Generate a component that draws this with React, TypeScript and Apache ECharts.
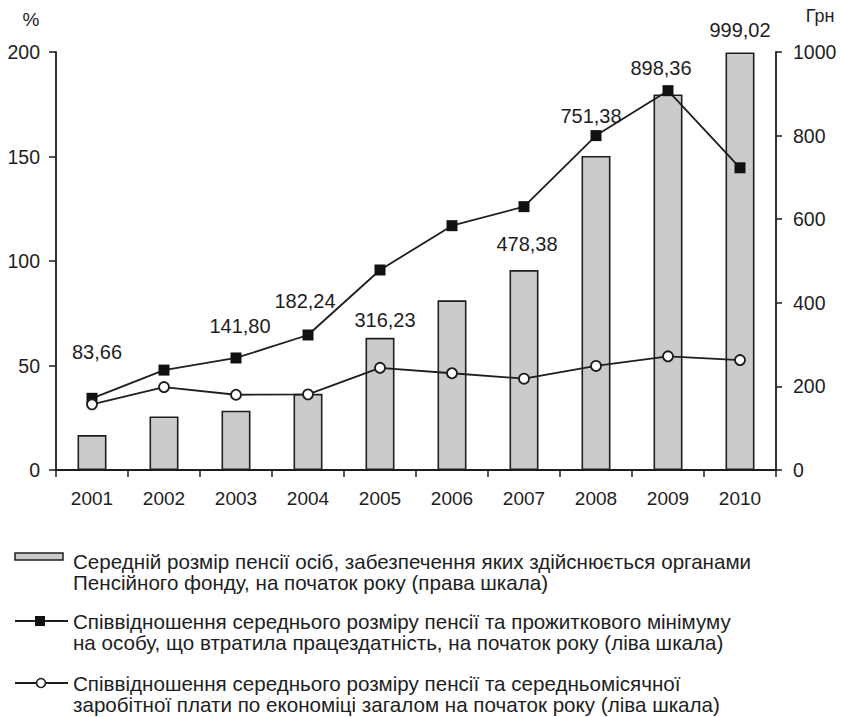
import React, { useEffect, useRef } from 'react';
import * as echarts from 'echarts';

const years = ['2001', '2002', '2003', '2004', '2005', '2006', '2007', '2008', '2009', '2010'];
// Середній розмір пенсії, грн (права шкала)
const pensionUah = [83.66, 128, 141.8, 182.24, 316.23, 406, 478.38, 751.38, 898.36, 999.02];
// Співвідношення до прожиткового мінімуму, % (ліва шкала)
const ratioSubsistence = [34.3, 47.8, 53.6, 64.6, 95.7, 116.9, 126, 160, 181.5, 144.6];
// Співвідношення до середньомісячної зарплати, % (ліва шкала)
const ratioWage = [31.4, 39.7, 36, 36.2, 48.9, 46.3, 43.7, 49.8, 54.4, 52.6];

// which bar values are labelled, and label nudges (style, not data)
const labelOffsets: ([number, number] | null)[] = [
  [5, -68], null, [4, -70], [-3, -78], [5, -3], null, [3, -11], [-5, -25], [-7, -11], [0, -7],
];

const legendLines = [
  ['Середній розмір пенсії осіб, забезпечення яких здійснюється органами', 'Пенсійного фонду, на початок року (права шкала)'],
  ['Співвідношення середнього розміру пенсії та прожиткового мінімуму', 'на особу, що втратила працездатність, на початок року (ліва шкала)'],
  ['Співвідношення середнього розміру пенсії та середньомісячної', 'заробітної плати по економіці загалом на початок року (ліва шкала)'],
];

const FONT = '"Liberation Sans", Arial, Helvetica, sans-serif';
const INK = '#1e1e1e';
const BAR = '#c9cbcd';

export default function App() {
  const ref = useRef<HTMLDivElement>(null);
  useEffect(() => {
    document.body.style.margin = '0';
    const chart = echarts.init(ref.current!, null, { renderer: 'svg' });
    const fmt = (v: number) => v.toFixed(2).replace('.', ',');
    const legendY = [551, 611, 673];
    chart.setOption({
      animation: false,
      backgroundColor: '#fff',
      textStyle: { fontFamily: FONT },
      grid: { left: 56, right: 65, top: 52, bottom: 247 },
      xAxis: [
        {
          type: 'category',
          data: years,
          position: 'bottom',
          axisLine: { lineStyle: { color: INK, width: 1.8 } },
          axisTick: { show: true, length: 7, lineStyle: { color: INK, width: 1.5 } },
          axisLabel: { color: INK, fontSize: 19, margin: 19, fontFamily: FONT },
        },
        {
          type: 'category',
          data: years,
          position: 'top',
          axisLine: { lineStyle: { color: INK, width: 1.8 } },
          axisTick: { show: false },
          axisLabel: { show: false },
        },
      ],
      yAxis: [
        {
          type: 'value',
          min: 0,
          max: 200,
          interval: 50,
          position: 'left',
          axisLine: { show: true, lineStyle: { color: INK, width: 1.8 } },
          axisTick: { show: true, length: 7, lineStyle: { color: INK, width: 1.5 } },
          axisLabel: { color: INK, fontSize: 19.5, margin: 16, fontFamily: FONT },
          splitLine: { show: false },
        },
        {
          type: 'value',
          min: 0,
          max: 1000,
          interval: 200,
          position: 'right',
          axisLine: { show: true, lineStyle: { color: INK, width: 1.8 } },
          axisTick: { show: true, length: 6, lineStyle: { color: INK, width: 1.5 } },
          axisLabel: { color: INK, fontSize: 19.5, margin: 17, fontFamily: FONT, formatter: (v: number) => String(v) },
          splitLine: { show: false },
        },
      ],
      series: [
        {
          type: 'bar',
          yAxisIndex: 1,
          barWidth: 29,
          itemStyle: { color: BAR, borderColor: INK, borderWidth: 1.6 },
          data: pensionUah.map((v, i) => {
            const off = labelOffsets[i];
            return {
              value: v,
              label: off
                ? {
                    show: true,
                    position: 'top',
                    offset: off,
                    formatter: fmt(v),
                    color: INK,
                    fontSize: 20,
                    fontFamily: FONT,
                  }
                : { show: false },
            };
          }),
          z: 1,
        },
        {
          type: 'line',
          yAxisIndex: 0,
          data: ratioSubsistence,
          symbol: 'rect',
          symbolSize: 11,
          lineStyle: { color: INK, width: 1.8 },
          itemStyle: { color: '#111', borderColor: '#111', borderWidth: 0 },
          z: 3,
        },
        {
          type: 'line',
          yAxisIndex: 0,
          data: ratioWage,
          symbol: 'circle',
          symbolSize: 10,
          showAllSymbol: true,
          lineStyle: { color: INK, width: 1.8 },
          itemStyle: { color: '#fff', borderColor: INK, borderWidth: 1.8 },
          z: 3,
        },
      ],
      graphic: [
        { type: 'text', x: 31, y: 19, style: { text: '%', font: `19px ${FONT}`, fill: INK, align: 'center', verticalAlign: 'middle' } },
        { type: 'text', x: 820, y: 16, style: { text: 'Грн', font: `18px ${FONT}`, fill: INK, align: 'center', verticalAlign: 'middle' } },
        // legend icons
        { type: 'rect', shape: { x: 15, y: 553, width: 48, height: 7 }, style: { fill: BAR, stroke: INK, lineWidth: 1.5 } },
        { type: 'line', shape: { x1: 15, y1: 621, x2: 68, y2: 621 }, style: { stroke: INK, lineWidth: 1.8 } },
        { type: 'rect', shape: { x: 35, y: 616, width: 10, height: 10 }, style: { fill: '#111' } },
        { type: 'line', shape: { x1: 15, y1: 683, x2: 68, y2: 683 }, style: { stroke: INK, lineWidth: 1.8 } },
        { type: 'circle', shape: { cx: 41, cy: 683, r: 4.5 }, style: { fill: '#fff', stroke: INK, lineWidth: 1.6 } },
        ...legendLines.map((lines, i) => ({
          type: 'text',
          x: 73,
          y: legendY[i],
          style: {
            text: lines.join('\n'),
            font: `20.6px ${FONT}`,
            lineHeight: 21,
            fill: INK,
            align: 'left',
            verticalAlign: 'top',
          },
        })),
      ],
    });
    return () => chart.dispose();
  }, []);
  return <div ref={ref} style={{ width: 841, height: 717 }} />;
}
